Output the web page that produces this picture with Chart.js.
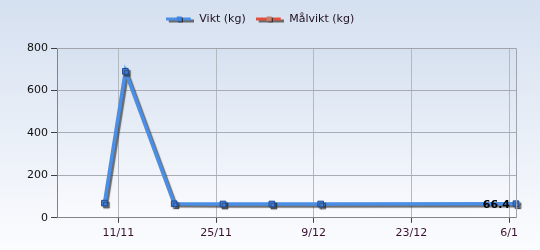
<!DOCTYPE html>
<html>
<head>
<meta charset="utf-8">
<script src="https://cdn.jsdelivr.net/npm/chart.js@4/dist/chart.umd.min.js"></script>
<style>
  html, body { margin: 0; padding: 0; background: #fff; }
  #wrap { width: 540px; height: 250px; position: relative; }
</style>
</head>
<body>
<div id="wrap"><canvas id="chart"></canvas></div>
<script>
// days counted from 11/11
const weightDays = [-2, 1, 8, 15, 22, 29, 57];
const weightValues = [69, 690, 66, 65, 65, 65, 66.4];
const goalDays = [];
const goalValues = [];
const xTickDays = [0, 14, 28, 42, 56];
const xTickLabels = ["11/11", "25/11", "9/12", "23/12", "6/1"];
const yTicks = [0, 200, 400, 600, 800];

const blue = "#4a8ee6";
const red = "#e0503c";
const font = '"DejaVu Sans", Verdana, sans-serif';

function legendIcon(color, marker) {
  const c = document.createElement("canvas");
  c.width = 28; c.height = 10;
  const g = c.getContext("2d");
  g.fillStyle = "#6a6a6a";
  g.fillRect(3, 5, 25, 3);
  g.fillStyle = color;
  g.fillRect(0, 3, 25, 3);
  g.fillStyle = "#222";
  g.fillRect(12, 3, 5, 5);
  g.fillStyle = marker;
  g.fillRect(11, 2, 5, 5);
  return c;
}

const backdrop = {
  id: "backdrop",
  beforeInit(chart) {
    const fit = chart.legend.fit;
    chart.legend.fit = function () {
      fit.call(this);
      this.height += 13;
    };
  },
  beforeDraw(chart) {
    const { ctx, width, height, chartArea: a } = chart;
    ctx.save();
    let g = ctx.createLinearGradient(0, 0, 0, height);
    g.addColorStop(0, "#d5e0f0");
    g.addColorStop(1, "#fbfcfe");
    ctx.fillStyle = g;
    ctx.fillRect(0, 0, width, height);
    g = ctx.createLinearGradient(0, a.top, 0, a.bottom);
    g.addColorStop(0, "#d6e1f0");
    g.addColorStop(1, "#fafbfe");
    ctx.fillStyle = g;
    ctx.fillRect(a.left, a.top, a.right - a.left, a.bottom - a.top);
    ctx.restore();
  },
  afterDraw(chart) {
    const { ctx, chartArea: a } = chart;
    ctx.save();
    ctx.strokeStyle = "#a0a4ac";
    ctx.lineWidth = 1;
    ctx.beginPath();
    ctx.moveTo(a.left, a.top + 0.5);
    ctx.lineTo(a.right + 0.5, a.top + 0.5);
    ctx.lineTo(a.right + 0.5, a.bottom);
    ctx.stroke();
    ctx.restore();
  }
};

const shadow = {
  id: "shadow",
  beforeDatasetsDraw(chart) {
    const ctx = chart.ctx;
    ctx.save();
    ctx.shadowColor = "rgba(50,50,50,0.7)";
    ctx.shadowOffsetX = 2;
    ctx.shadowOffsetY = 2;
    ctx.shadowBlur = 1;
  },
  afterDatasetsDraw(chart) {
    const ctx = chart.ctx;
    ctx.restore();
    // value label on last point
    const meta = chart.getDatasetMeta(0);
    const last = meta.data[meta.data.length - 1];
    ctx.save();
    ctx.font = "bold 11px " + font;
    ctx.fillStyle = "#000";
    ctx.textAlign = "right";
    ctx.textBaseline = "middle";
    ctx.fillText(String(weightValues[weightValues.length - 1]), last.x - 6, last.y + 1);
    ctx.restore();
  }
};

new Chart(document.getElementById("chart"), {
  type: "line",
  data: {
    datasets: [
      {
        label: "Vikt (kg)",
        data: weightDays.map((d, i) => ({ x: d, y: weightValues[i] })),
        borderColor: blue,
        borderWidth: 3.5,
        pointStyle: "rect",
        pointRadius: 4,
        pointBackgroundColor: "#3f82e2",
        pointBorderColor: "#1e4c96",
        pointBorderWidth: 1,
        tension: 0,
        clip: false,
      },
      {
        label: "Målvikt (kg)",
        data: goalDays.map((d, i) => ({ x: d, y: goalValues[i] })),
        borderColor: red,
        borderWidth: 3.5,
        pointRadius: 0,
      },
    ],
  },
  options: {
    responsive: true,
    maintainAspectRatio: false,
    animation: false,
    layout: { padding: { top: 4, right: 24, bottom: 6, left: 4 } },
    plugins: {
      tooltip: { enabled: false },
      legend: {
        position: "top",
        labels: {
          font: { family: font, size: 11 },
          color: "#201020",
          usePointStyle: true,
          pointStyleWidth: 28,
          boxHeight: 10,
          padding: 10,
          generateLabels(chart) {
            return chart.data.datasets.map((ds, i) => ({
              text: ds.label,
              pointStyle: legendIcon(i === 0 ? blue : red, i === 0 ? "#3f82e2" : "#c08070"),
              fontColor: "#201020",
              datasetIndex: i,
              hidden: false,
              lineWidth: 0,
            }));
          },
        },
      },
    },
    scales: {
      x: {
        type: "linear",
        min: -8.8,
        max: 57,
        afterBuildTicks(axis) {
          axis.ticks = xTickDays.map((v) => ({ value: v }));
        },
        ticks: {
          autoSkip: false,
          maxRotation: 0,
          font: { family: font, size: 11 },
          color: "#3a1030",
          padding: 4,
          callback(v) {
            const i = xTickDays.indexOf(v);
            return i >= 0 ? xTickLabels[i] : "";
          },
        },
        grid: { color: "#b4b8c0", tickColor: "#404040", tickLength: 5 },
        border: { color: "#808488", width: 1 },
      },
      y: {
        min: 0,
        max: 800,
        afterBuildTicks(axis) {
          axis.ticks = yTicks.map((v) => ({ value: v }));
        },
        afterFit(axis) {
          axis.width = 53;
        },
        ticks: {
          font: { family: font, size: 11 },
          color: "#101010",
          padding: 3,
        },
        grid: { color: "#a8acb4", tickColor: "#404040", tickLength: 6 },
        border: { color: "#808488", width: 1 },
      },
    },
  },
  plugins: [backdrop, shadow],
});
</script>
</body>
</html>
